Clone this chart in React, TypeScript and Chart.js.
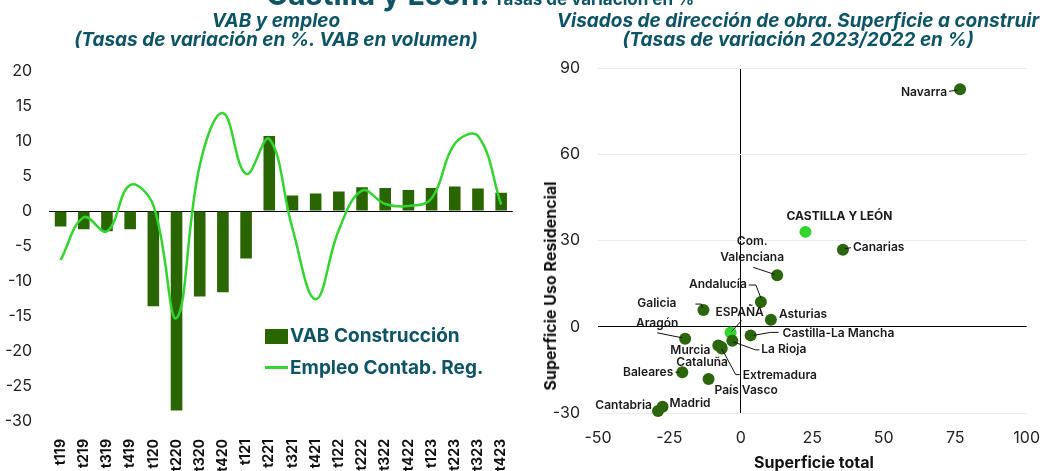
import React, { useEffect, useRef } from 'react';
import { Chart, registerables } from 'chart.js';
Chart.register(...registerables);

const FONT = 'Inter, "Noto Sans", sans-serif';
const TEAL = '#0c5466';
const BAR_GREEN = '#2a6600';
const LINE_GREEN = '#33d42f';
const DOT_GREEN = '#2b650c';

// ---- Left chart data ----
const quarters = ['t119', 't219', 't319', 't419', 't120', 't220', 't320', 't420', 't121', 't221', 't321', 't421', 't122', 't222', 't322', 't422', 't123', 't223', 't323', 't423'];
const vabConstruccion = [-2.2, -2.6, -2.9, -2.6, -13.6, -28.5, -12.2, -11.6, -6.8, 10.7, 2.2, 2.5, 2.8, 3.4, 3.3, 3.0, 3.3, 3.5, 3.2, 2.6];
const empleoContab = [-7.0, -0.9, -2.9, 3.7, 0.8, -15.3, 6.5, 14.0, 5.3, 10.3, -2.5, -12.6, -2.7, 2.9, 1.0, 0.7, 1.8, 9.6, 10.7, 0.9];

// ---- Right chart data ----
const regions = ['Navarra', 'CASTILLA Y LEÓN', 'Canarias', 'Com. Valenciana', 'Andalucía', 'Galicia', 'Asturias', 'ESPAÑA', 'Castilla-La Mancha', 'Aragón', 'La Rioja', 'Murcia', 'Cataluña', 'Extremadura', 'Baleares', 'País Vasco', 'Madrid', 'Cantabria'];
const superficieTotal = [76.7, 22.6, 35.7, 12.7, 7.0, -13.1, 10.5, -3.6, 3.4, -19.5, -3.0, -7.9, -6.9, -6.7, -20.5, -11.3, -27.4, -29.0];
const usoResidencial = [82.6, 33.0, 26.8, 17.9, 8.6, 5.8, 2.4, -2.0, -3.0, -4.2, -4.9, -6.5, -7.0, -7.6, -15.8, -18.2, -27.8, -29.3];
const highlighted = ['CASTILLA Y LEÓN', 'ESPAÑA'];

// label placement relative to each point (pixels)
type Lay = { dx: number; dy: number; align: CanvasTextAlign; bold?: boolean; lines?: string[]; leader?: number[][] };
const labelLayout: Lay[] = [
  { dx: -13, dy: 3, align: 'right', leader: [[-3, 1], [-11, 2]] },
  { dx: -19, dy: -15, align: 'left', bold: true },
  { dx: 10, dy: -2, align: 'left', leader: [[2, -1], [8, -2]] },
  { dx: -25, dy: -34, align: 'center', lines: ['Com.', 'Valenciana'], leader: [[-24, -8], [-3, -1]] },
  { dx: -14, dy: -18, align: 'right', leader: [[-12, -17], [-5, -17], [0, -4]] },
  { dx: -27, dy: -7, align: 'right', leader: [[-8, -6], [-2, -6], [-1, -2]] },
  { dx: 8, dy: -5, align: 'left' },
  { dx: 9, dy: -20, align: 'center', leader: [[11, -12], [1, -1]] },
  { dx: 32, dy: -2, align: 'left', leader: [[3, 0], [20, -3], [28, -3]] },
  { dx: -28, dy: -15, align: 'center', leader: [[-28, -6], [-3, -1]] },
  { dx: 29, dy: 9, align: 'left', leader: [[1, 1], [23, 9], [27, 9]] },
  { dx: -8, dy: 5, align: 'right' },
  { dx: -19, dy: 16, align: 'center' },
  { dx: 21, dy: 27, align: 'left', leader: [[0, 0], [14, 26], [18, 26]] },
  { dx: -9, dy: 0, align: 'right', leader: [[-7, 0], [-3, 0]] },
  { dx: 6, dy: 11, align: 'left' },
  { dx: 7, dy: -3, align: 'left' },
  { dx: -6, dy: -6, align: 'right' },
];

const scatterLabels = {
  id: 'scatterLabels',
  afterDatasetsDraw(chart: any) {
    const ctx: CanvasRenderingContext2D = chart.ctx;
    const meta = chart.getDatasetMeta(0);
    ctx.save();
    meta.data.forEach((pt: any, i: number) => {
      const lay = labelLayout[i];
      if (!lay) return;
      const x = pt.x;
      const y = pt.y;
      if (lay.leader) {
        ctx.beginPath();
        lay.leader.forEach((p, k) => {
          if (k === 0) ctx.moveTo(x + p[0], y + p[1]);
          else ctx.lineTo(x + p[0], y + p[1]);
        });
        ctx.strokeStyle = '#111';
        ctx.lineWidth = 1;
        ctx.stroke();
      }
      ctx.font = `${lay.bold ? 700 : 600} 12px ${FONT}`;
      ctx.fillStyle = '#1a1a1a';
      ctx.textAlign = lay.align;
      ctx.textBaseline = 'middle';
      const lines = lay.lines ?? [regions[i]];
      lines.forEach((t, k) => ctx.fillText(t, x + lay.dx, y + lay.dy + k * 16));
    });
    ctx.restore();
  },
};

function LeftChart() {
  const ref = useRef<HTMLCanvasElement>(null);
  useEffect(() => {
    if (!ref.current) return;
    const chart = new Chart(ref.current, {
      type: 'bar',
      data: {
        labels: quarters,
        datasets: [
          {
            type: 'line',
            label: 'Empleo Contab. Reg.',
            data: empleoContab,
            borderColor: LINE_GREEN,
            borderWidth: 2.5,
            tension: 0.4,
            pointRadius: 0,
            fill: false,
            order: 0,
          } as any,
          {
            type: 'bar',
            label: 'VAB Construcción',
            data: vabConstruccion,
            backgroundColor: BAR_GREEN,
            barPercentage: 0.5,
            categoryPercentage: 1,
            order: 1,
          },
        ],
      },
      options: {
        animation: false,
        responsive: false,
        layout: { padding: { top: 71, right: 2, left: 0, bottom: 0 } },
        plugins: { legend: { display: false }, tooltip: { enabled: false }, title: { display: false } },
        scales: {
          x: {
            grid: { display: false },
            border: { display: false },
            ticks: {
              minRotation: 90,
              maxRotation: 90,
              autoSkip: false,
              padding: 10,
              color: '#111',
              font: { family: FONT, size: 14, weight: 'bold' },
            },
            afterFit: (s: any) => { s.height = 50; },
          },
          y: {
            min: -30,
            max: 20,
            ticks: { stepSize: 5, padding: 17, color: '#222', font: { family: FONT, size: 16 } },
            grid: {
              drawTicks: false,
              color: (c: any) => (c.tick && c.tick.value === 0 ? '#000' : 'rgba(0,0,0,0)'),
              lineWidth: 1,
            },
            border: { display: false },
            afterFit: (s: any) => { s.width = 49; },
          },
        },
      },
    });
    return () => chart.destroy();
  }, []);
  return <canvas ref={ref} width={528} height={471} style={{ position: 'absolute', left: 0, top: 0 }} />;
}

function RightChart() {
  const ref = useRef<HTMLCanvasElement>(null);
  useEffect(() => {
    if (!ref.current) return;
    const colors = regions.map((r) => (highlighted.includes(r) ? LINE_GREEN : DOT_GREEN));
    const chart = new Chart(ref.current, {
      type: 'scatter',
      data: {
        datasets: [
          {
            label: 'Visados',
            data: superficieTotal.map((x, i) => ({ x, y: usoResidencial[i] })),
            backgroundColor: colors,
            pointBackgroundColor: colors,
            pointBorderWidth: 0,
            pointRadius: 6,
            clip: false,
          } as any,
        ],
      },
      options: {
        animation: false,
        responsive: false,
        layout: { padding: { top: 68, right: 28, left: 0, bottom: 0 } },
        plugins: { legend: { display: false }, tooltip: { enabled: false } },
        scales: {
          x: {
            type: 'linear',
            min: -50,
            max: 100,
            ticks: { stepSize: 25, padding: 16, color: '#222', font: { family: FONT, size: 16 } },
            grid: {
              drawTicks: false,
              color: (c: any) => (c.tick && c.tick.value === 0 ? '#000' : 'rgba(0,0,0,0)'),
            },
            border: { display: false },
            afterFit: (s: any) => { s.height = 58; },
          },
          y: {
            type: 'linear',
            min: -30,
            max: 90,
            ticks: { stepSize: 30, padding: 18, color: '#222', font: { family: FONT, size: 16 } },
            grid: {
              drawTicks: false,
              color: (c: any) => (c.tick && c.tick.value === 0 ? '#000' : '#ececec'),
            },
            border: { display: false },
            afterFit: (s: any) => { s.width = 70; },
          },
        },
      },
      plugins: [scatterLabels],
    });
    return () => chart.destroy();
  }, []);
  return <canvas ref={ref} width={528} height={471} style={{ position: 'absolute', left: 528, top: 0 }} />;
}

const subtitleStyle: React.CSSProperties = {
  position: 'absolute',
  top: 11,
  textAlign: 'center',
  fontFamily: FONT,
  fontSize: 19,
  lineHeight: '19px',
  fontWeight: 700,
  fontStyle: 'italic',
  color: TEAL,
  whiteSpace: 'nowrap',
};

export default function App() {
  return (
    <div
      style={{
        position: 'absolute',
        left: 0,
        top: 0,
        width: 1056,
        height: 471,
        overflow: 'hidden',
        background: '#fff',
        fontFamily: FONT,
      }}
    >
      <LeftChart />
      <RightChart />
      <div
        style={{
          position: 'absolute',
          left: 266,
          top: -21,
          fontFamily: FONT,
          fontWeight: 700,
          color: TEAL,
          lineHeight: '30px',
          whiteSpace: 'nowrap',
        }}
      >
        <span style={{ fontSize: 30 }}>Castilla y León.</span>
        <span style={{ fontSize: 17 }}> Tasas de variación en %</span>
      </div>
      <div style={{ ...subtitleStyle, left: 0, width: 552 }}>
        VAB y empleo
        <br />
        (Tasas de variación en %. VAB en volumen)
      </div>
      <div style={{ ...subtitleStyle, left: 538, width: 520 }}>
        Visados de dirección de obra. Superficie a construir
        <br />
        (Tasas de variación 2023/2022 en %)
      </div>
      {/* legend */}
      <div style={{ position: 'absolute', left: 265, top: 329, width: 23, height: 15, background: BAR_GREEN }} />
      <div
        style={{
          position: 'absolute',
          left: 290,
          top: 324,
          fontSize: 19,
          lineHeight: '24px',
          fontWeight: 700,
          color: TEAL,
          whiteSpace: 'nowrap',
        }}
      >
        VAB Construcción
      </div>
      <div style={{ position: 'absolute', left: 265, top: 366, width: 23, height: 2.5, background: LINE_GREEN }} />
      <div
        style={{
          position: 'absolute',
          left: 290,
          top: 356,
          fontSize: 19,
          lineHeight: '24px',
          fontWeight: 700,
          color: TEAL,
          whiteSpace: 'nowrap',
        }}
      >
        Empleo Contab. Reg.
      </div>
      {/* right axis titles */}
      <div
        style={{
          position: 'absolute',
          left: 550,
          top: 286,
          transform: 'translate(-50%, -50%) rotate(-90deg)',
          fontSize: 16,
          fontWeight: 700,
          color: '#111',
          whiteSpace: 'nowrap',
        }}
      >
        Superficie Uso Residencial
      </div>
      <div
        style={{
          position: 'absolute',
          left: 814,
          top: 462,
          transform: 'translate(-50%, -50%)',
          fontSize: 16,
          fontWeight: 700,
          color: '#111',
          whiteSpace: 'nowrap',
        }}
      >
        Superficie total
      </div>
    </div>
  );
}
